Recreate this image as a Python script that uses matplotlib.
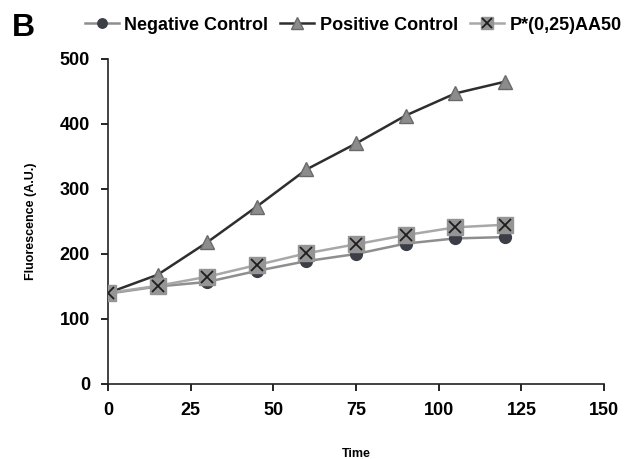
import matplotlib
matplotlib.use("Agg")
import matplotlib.pyplot as plt
from matplotlib.lines import Line2D

plt.rcParams['font.family'] = ['Liberation Sans', 'DejaVu Sans']
plt.rcParams['font.weight'] = 'bold'

time = [0, 15, 30, 45, 60, 75, 90, 105, 120]
negative_control = [139, 150, 157, 174, 189, 200, 216, 224, 226]
positive_control = [140, 168, 218, 273, 330, 370, 413, 447, 465]
p_aa50 = [140, 151, 165, 183, 201, 215, 229, 241, 245]

x_ticks = [0, 25, 50, 75, 100, 125, 150]
y_ticks = [0, 100, 200, 300, 400, 500]

fig = plt.figure(figsize=(6.26, 4.59), dpi=100)
ax = fig.add_axes([0.1725, 0.1634, 0.7925, 0.7081])

neg_style = dict(color='#8e8e8e', lw=1.8, marker='o', ms=8.5, mfc='#3b3e46', mec='#3b3e46')
pos_style = dict(color='#2e2e2e', lw=1.8, marker='^', ms=10, mfc='#8c8c8c', mec='#6a6a6a')
sq_style = dict(color='#a8a8a8', lw=1.8, marker='s', ms=11.5, mfc='#959595', mec='#959595')
x_style = dict(ls='none', marker='x', ms=9, mec='#1e1e1e', mew=1.3)

ax.plot(time, negative_control, zorder=3, **neg_style)
ax.plot(time, positive_control, zorder=4, **pos_style)
ax.plot(time, p_aa50, zorder=5, **sq_style)
ax.plot(time, p_aa50, zorder=6, **x_style)

ax.set_xlim(0, 150)
ax.set_ylim(0, 500)
ax.set_xticks(x_ticks)
ax.set_yticks(y_ticks)
ax.tick_params(axis='both', labelsize=13, width=1.2, length=5, direction='out', pad=8)
for s in ['top', 'right']:
    ax.spines[s].set_visible(False)
for s in ['left', 'bottom']:
    ax.spines[s].set_linewidth(1.2)
    ax.spines[s].set_color('#222222')
for lbl in ax.get_xticklabels() + ax.get_yticklabels():
    lbl.set_fontweight('bold')

ax.set_xlabel('Time', fontsize=9, fontweight='bold', labelpad=21)
ax.set_ylabel('Fluorescence (A.U.)', fontsize=9, fontweight='bold', labelpad=16)

fig.text(0.019, 0.972, 'B', fontsize=23, fontweight='bold', va='top', ha='left')

def small(style, scale):
    d = dict(style)
    d['ms'] = style['ms'] * scale
    return d

h_neg = Line2D([], [], **small(neg_style, 0.8))
h_pos = Line2D([], [], **small(pos_style, 0.8))
h_p = (Line2D([], [], **small(sq_style, 0.8)), Line2D([], [], **small(x_style, 0.8)))
fig.legend([h_neg, h_pos, h_p], ['Negative Control', 'Positive Control', 'P*(0,25)AA50'],
           loc='center', bbox_to_anchor=(0.564, 0.945), ncol=3, frameon=False,
           handlelength=1.9, handletextpad=0.3, columnspacing=0.65,
           borderpad=0.2, prop={'weight': 'bold', 'size': 13})

fig.savefig('out.png', dpi=100)
